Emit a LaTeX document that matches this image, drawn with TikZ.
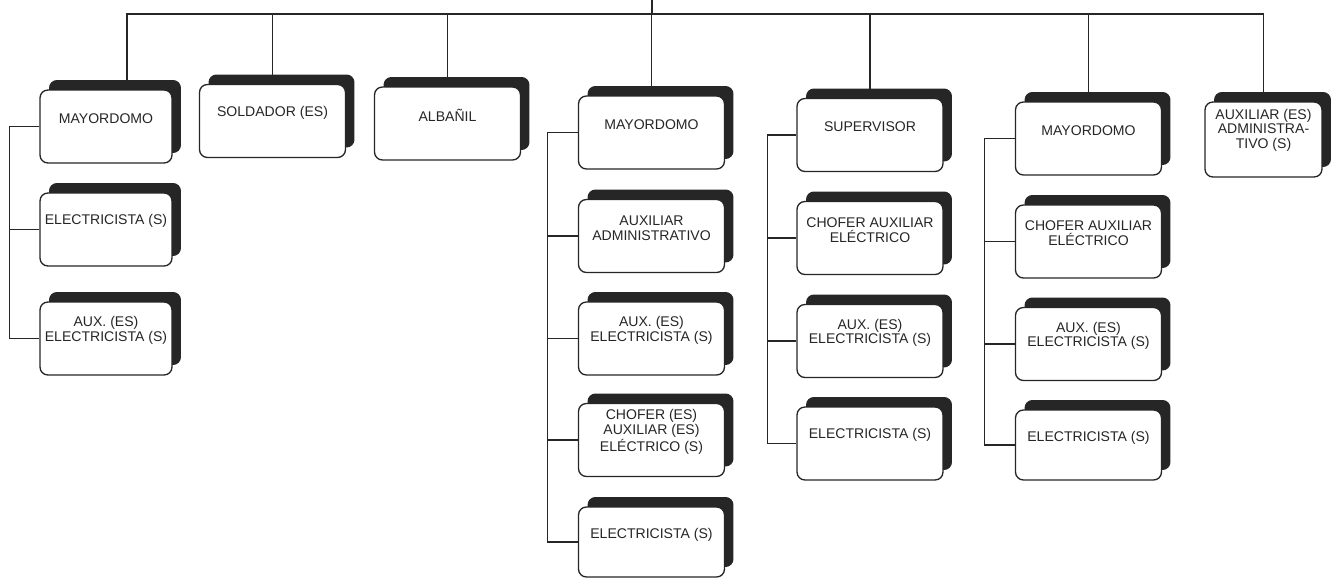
\documentclass[tikz,border=0pt]{standalone}
\usepackage{fontspec}
\setmainfont{Liberation Sans}
\usetikzlibrary{shadows, backgrounds, calc}

\begin{document}
\begin{tikzpicture}[
    x=0.02cm, y=-0.02cm,
    puesto/.style={
      rectangle, draw=black!85, line width=0.75pt, rounded corners=4.5pt,
      fill=white, minimum width=2.92cm, minimum height=1.46cm,
      drop shadow={shadow xshift=0.18cm, shadow yshift=0.2cm,
                   fill=black!85, opacity=1},
      label={[rotulo]north:#1}
    },
    rotulo/.style={anchor=center, yshift=-0.58cm, align=center, inner sep=0pt,
                   font=\fontsize{8}{8.5}\selectfont, text=black!85},
    linea/.style={draw=black!85, line width=0.6pt},
  ]
  \useasboundingbox (0,0) rectangle (1333,580);

  %% -- first row -------------------------------------------------------
  \node[puesto={MAYORDOMO}, minimum width=2.64cm]       (may1) at (106,126.5) {};
  \node[puesto={SOLDADOR (ES)}]                          (sold) at (272.5,121) {};
  \node[puesto={ALBAÑIL}]                                (alb)  at (447.5,123.5) {};
  \node[puesto={MAYORDOMO}]                              (may4) at (651.5,132.5) {};
  \node[puesto={SUPERVISOR}]                             (sup5) at (870,135) {};
  \node[puesto={MAYORDOMO}]                              (may6) at (1088.5,138.5) {};
  \node[puesto={AUXILIAR (ES)\\ADMINISTRA-\\TIVO (S)}, minimum width=2.34cm,
        minimum height=1.5cm]                            (adm7) at (1263.5,139.5) {};

  %% -- column 1 --------------------------------------------------------
  \node[puesto={ELECTRICISTA (S)}, minimum width=2.64cm] (ele1) at (106,229.5) {};
  \node[puesto={AUX. (ES)\\ELECTRICISTA (S)}, minimum width=2.64cm] (aux1) at (106,338.5) {};

  %% -- column 4 --------------------------------------------------------
  \node[puesto={AUXILIAR\\ADMINISTRATIVO}]               (adm4) at (651.5,236) {};
  \node[puesto={AUX. (ES)\\ELECTRICISTA (S)}]            (aux4) at (651.5,338.5) {};
  \node[puesto={CHOFER (ES)\\AUXILIAR (ES)\\ELÉCTRICO (S)}] (cho4) at (651.5,440) {};
  \node[puesto={ELECTRICISTA (S)}, minimum height=1.4cm] (ele4) at (651.5,542) {};

  %% -- column 5 --------------------------------------------------------
  \node[puesto={CHOFER AUXILIAR\\ELÉCTRICO}]             (cho5) at (870,238) {};
  \node[puesto={AUX. (ES)\\ELECTRICISTA (S)}]            (aux5) at (870,341) {};
  \node[puesto={ELECTRICISTA (S)}]                       (ele5) at (870,443.5) {};

  %% -- column 6 --------------------------------------------------------
  \node[puesto={CHOFER AUXILIAR\\ELÉCTRICO}]             (cho6) at (1088.5,241.5) {};
  \node[puesto={AUX. (ES)\\ELECTRICISTA (S)}]            (aux6) at (1088.5,344) {};
  \node[puesto={ELECTRICISTA (S)}, minimum height=1.4cm] (ele6) at (1088.5,445) {};

  %% -- connectors, behind the boxes ------------------------------------
  \begin{scope}[on background layer]
    \coordinate (raiz)  at (652,0);
    \coordinate (barra) at (652,14);
    \draw[linea] (raiz) -- (barra);
    \draw[linea] ($(may1.north)+(21,0)$) |- (barra) -| (adm7.north);
    \draw[linea] (barra -| sold.north) -- (sold.north);
    \draw[linea] (barra -| alb.north)  -- (alb.north);
    \draw[linea] (barra -| may4.north) -- (may4.north);
    \draw[linea] (barra -| sup5.north) -- (sup5.north);
    \draw[linea] (barra -| may6.north) -- (may6.north);

    \draw[linea] (may1.west) -- ++(-30,0) |- (aux1.west);
    \draw[linea] (ele1.west) -- ++(-30,0);

    \draw[linea] (may4.west) -- ++(-30,0) |- (ele4.west);
    \draw[linea] (adm4.west) -- ++(-30,0);
    \draw[linea] (aux4.west) -- ++(-30,0);
    \draw[linea] (cho4.west) -- ++(-30,0);

    \draw[linea] (sup5.west) -- ++(-29,0) |- (ele5.west);
    \draw[linea] (cho5.west) -- ++(-29,0);
    \draw[linea] (aux5.west) -- ++(-29,0);

    \draw[linea] (may6.west) -- ++(-30,0) |- (ele6.west);
    \draw[linea] (cho6.west) -- ++(-30,0);
    \draw[linea] (aux6.west) -- ++(-30,0);
  \end{scope}

\end{tikzpicture}
\end{document}
